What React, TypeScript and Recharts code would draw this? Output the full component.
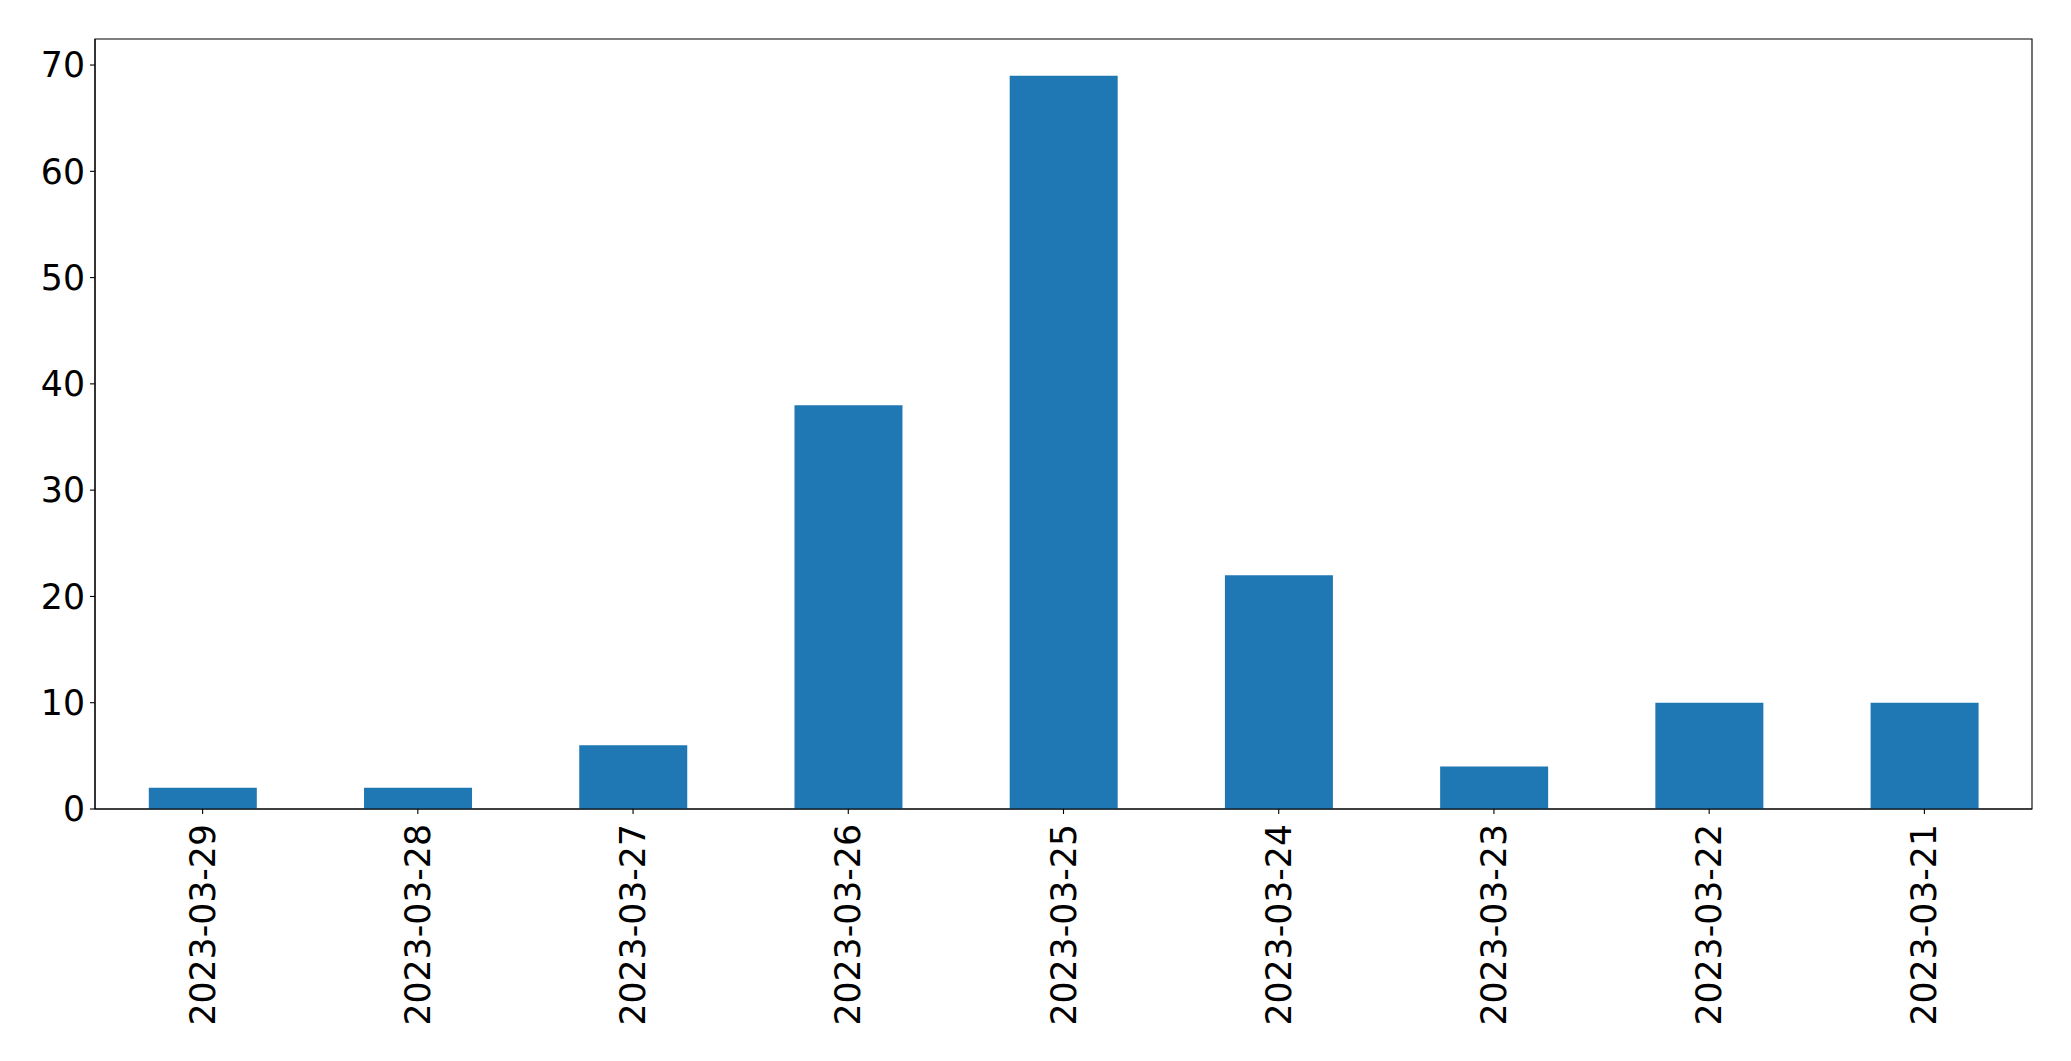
import React from "react";
import { BarChart, Bar, XAxis, YAxis, ReferenceArea } from "recharts";

const categories = [
  "2023-03-29",
  "2023-03-28",
  "2023-03-27",
  "2023-03-26",
  "2023-03-25",
  "2023-03-24",
  "2023-03-23",
  "2023-03-22",
  "2023-03-21",
];
const counts = [2, 2, 6, 38, 69, 22, 4, 10, 10];
const yTicks = [0, 10, 20, 30, 40, 50, 60, 70];
const yMax = 72.45;

const data = categories.map((c, i) => ({ date: c, count: counts[i] }));

const FONT = "'DejaVu Sans', sans-serif";
const FS = 34.7;

const XTick = (props: any) => {
  const { x, y, payload } = props;
  return (
    <text
      x={0}
      y={0}
      transform={`translate(${x},${y + 5}) rotate(-90)`}
      textAnchor="end"
      dominantBaseline="central"
      fontFamily={FONT}
      fontSize={FS}
      fill="#000"
    >
      {payload.value}
    </text>
  );
};

export default function App() {
  return (
    <div style={{ position: "absolute", left: 0, top: 0, background: "#fff" }}>
      <BarChart
        width={2071}
        height={1061}
        data={data}
        margin={{ top: 39, right: 39, bottom: 0, left: 10 }}
        barCategoryGap="25%"
      >
        <XAxis
          dataKey="date"
          interval={0}
          height={252}
          tickSize={5}
          tickMargin={5}
          tick={<XTick />}
          stroke="#000"
          axisLine={{ stroke: "#000", strokeWidth: 1.1 }}
          tickLine={{ stroke: "#000", strokeWidth: 1.1 }}
        />
        <YAxis
          domain={[0, yMax]}
          ticks={yTicks}
          width={85}
          tickSize={5}
          tickMargin={5}
          interval={0}
          allowDataOverflow
          stroke="#000"
          tick={{ fontFamily: FONT, fontSize: FS, fill: "#000" }}
          axisLine={{ stroke: "#000", strokeWidth: 1.1 }}
          tickLine={{ stroke: "#000", strokeWidth: 1.1 }}
        />
        <Bar dataKey="count" fill="#1f77b4" isAnimationActive={false} />
        <ReferenceArea
          y1={0}
          y2={yMax}
          fill="none"
          fillOpacity={0}
          stroke="#000"
          strokeWidth={1.1}
          strokeOpacity={1}
          ifOverflow="visible"
        />
      </BarChart>
    </div>
  );
}
